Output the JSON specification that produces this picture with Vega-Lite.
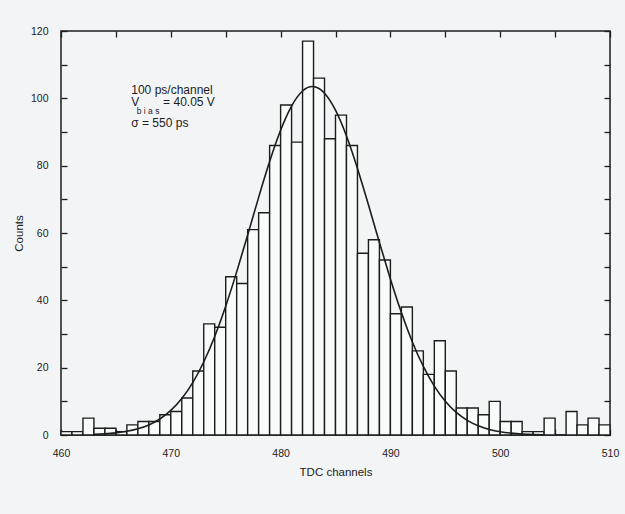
{
  "$schema": "https://vega.github.io/schema/vega-lite/v6.json",
  "width": 549,
  "height": 404,
  "autosize": {"type": "none"},
  "padding": {"left": 61, "top": 31, "right": 15, "bottom": 79},
  "background": "#f3f4f5",
  "config": {
    "view": {"stroke": "#1c1c1c", "strokeWidth": 1.5},
    "font": "Liberation Sans",
    "axis": {
      "grid": false,
      "domain": false,
      "tickColor": "#1c1c1c",
      "tickWidth": 1.3,
      "tickSize": -6,
      "labelColor": "#1c1c1c",
      "titleColor": "#1c1c1c",
      "labelFont": "Liberation Sans",
      "titleFont": "Liberation Sans",
      "titleFontWeight": "normal",
      "labelFontSize": 10.5,
      "titleFontSize": 11.5
    }
  },
  "datasets": {
    "hist": [
      {"from": 460, "to": 461, "counts": 1},
      {"from": 461, "to": 462, "counts": 1},
      {"from": 462, "to": 463, "counts": 5},
      {"from": 463, "to": 464, "counts": 2},
      {"from": 464, "to": 465, "counts": 2},
      {"from": 465, "to": 466, "counts": 1},
      {"from": 466, "to": 467, "counts": 3},
      {"from": 467, "to": 468, "counts": 4},
      {"from": 468, "to": 469, "counts": 4},
      {"from": 469, "to": 470, "counts": 6},
      {"from": 470, "to": 471, "counts": 7},
      {"from": 471, "to": 472, "counts": 11},
      {"from": 472, "to": 473, "counts": 19},
      {"from": 473, "to": 474, "counts": 33},
      {"from": 474, "to": 475, "counts": 32},
      {"from": 475, "to": 476, "counts": 47},
      {"from": 476, "to": 477, "counts": 45},
      {"from": 477, "to": 478, "counts": 61},
      {"from": 478, "to": 479, "counts": 66},
      {"from": 479, "to": 480, "counts": 86},
      {"from": 480, "to": 481, "counts": 98},
      {"from": 481, "to": 482, "counts": 87},
      {"from": 482, "to": 483, "counts": 117},
      {"from": 483, "to": 484, "counts": 106},
      {"from": 484, "to": 485, "counts": 88},
      {"from": 485, "to": 486, "counts": 95},
      {"from": 486, "to": 487, "counts": 86},
      {"from": 487, "to": 488, "counts": 54},
      {"from": 488, "to": 489, "counts": 58},
      {"from": 489, "to": 490, "counts": 52},
      {"from": 490, "to": 491, "counts": 36},
      {"from": 491, "to": 492, "counts": 38},
      {"from": 492, "to": 493, "counts": 25},
      {"from": 493, "to": 494, "counts": 18},
      {"from": 494, "to": 495, "counts": 28},
      {"from": 495, "to": 496, "counts": 19},
      {"from": 496, "to": 497, "counts": 8},
      {"from": 497, "to": 498, "counts": 8},
      {"from": 498, "to": 499, "counts": 6},
      {"from": 499, "to": 500, "counts": 10},
      {"from": 500, "to": 501, "counts": 4},
      {"from": 501, "to": 502, "counts": 4},
      {"from": 502, "to": 503, "counts": 1},
      {"from": 503, "to": 504, "counts": 1},
      {"from": 504, "to": 505, "counts": 5},
      {"from": 505, "to": 506, "counts": 0},
      {"from": 506, "to": 507, "counts": 7},
      {"from": 507, "to": 508, "counts": 3},
      {"from": 508, "to": 509, "counts": 5},
      {"from": 509, "to": 510, "counts": 3}
    ],
    "fit": [
      {"channel": 463, "fit": 0.19},
      {"channel": 464, "fit": 0.35},
      {"channel": 465, "fit": 0.63},
      {"channel": 466, "fit": 1.09},
      {"channel": 467, "fit": 1.84},
      {"channel": 468, "fit": 3.0},
      {"channel": 469, "fit": 4.75},
      {"channel": 470, "fit": 7.29},
      {"channel": 471, "fit": 10.83},
      {"channel": 472, "fit": 15.57},
      {"channel": 473, "fit": 21.69},
      {"channel": 474, "fit": 29.27},
      {"channel": 475, "fit": 38.26},
      {"channel": 476, "fit": 48.45},
      {"channel": 477, "fit": 59.42},
      {"channel": 478, "fit": 70.58},
      {"channel": 479, "fit": 81.21},
      {"channel": 480, "fit": 90.51},
      {"channel": 481, "fit": 97.71},
      {"channel": 482, "fit": 102.18},
      {"channel": 483, "fit": 103.48},
      {"channel": 484, "fit": 101.52},
      {"channel": 485, "fit": 96.47},
      {"channel": 486, "fit": 88.79},
      {"channel": 487, "fit": 79.17},
      {"channel": 488, "fit": 68.37},
      {"channel": 489, "fit": 57.18},
      {"channel": 490, "fit": 46.34},
      {"channel": 491, "fit": 36.36},
      {"channel": 492, "fit": 27.64},
      {"channel": 493, "fit": 20.36},
      {"channel": 494, "fit": 14.52},
      {"channel": 495, "fit": 10.03},
      {"channel": 496, "fit": 6.71},
      {"channel": 497, "fit": 4.35},
      {"channel": 498, "fit": 2.73},
      {"channel": 499, "fit": 1.66},
      {"channel": 500, "fit": 0.98},
      {"channel": 501, "fit": 0.56},
      {"channel": 502, "fit": 0.31},
      {"channel": 503, "fit": 0.16},
      {"channel": 504, "fit": 0.09}
    ]
  },
  "resolve": {"axis": {"x": "independent", "y": "independent"}},
  "layer": [
    {
      "data": {"name": "hist"},
      "mark": {"type": "rect", "fill": "#f9fafa", "stroke": "#1c1c1c", "strokeWidth": 1.4},
      "encoding": {
        "x": {
          "field": "from",
          "type": "quantitative",
          "scale": {"domain": [460, 510], "nice": false, "zero": false},
          "axis": {
            "orient": "bottom",
            "values": [460, 465, 470, 475, 480, 485, 490, 495, 500, 505, 510],
            "labelExpr": "datum.value % 10 === 0 ? datum.label : ''",
            "labelPadding": 19,
            "labelFlush": false,
            "title": "TDC channels",
            "titlePadding": 8
          }
        },
        "x2": {"field": "to"},
        "y": {
          "field": "counts",
          "type": "quantitative",
          "scale": {"domain": [0, 120], "nice": false},
          "axis": {
            "orient": "left",
            "values": [0, 10, 20, 30, 40, 50, 60, 70, 80, 90, 100, 110, 120],
            "labelExpr": "datum.value % 20 === 0 ? datum.label : ''",
            "labelPadding": 19,
            "labelFlush": false,
            "title": "Counts",
            "titlePadding": 6
          }
        },
        "y2": {"datum": 0}
      }
    },
    {
      "data": {"name": "fit"},
      "mark": {"type": "line", "color": "#1c1c1c", "strokeWidth": 1.6, "interpolate": "natural", "clip": true},
      "encoding": {
        "x": {
          "field": "channel",
          "type": "quantitative",
          "scale": {"domain": [460, 510], "nice": false, "zero": false},
          "axis": {"orient": "top", "values": [460, 465, 470, 475, 480, 485, 490, 495, 500, 505, 510], "labels": false, "title": null}
        },
        "y": {
          "field": "fit",
          "type": "quantitative",
          "scale": {"domain": [0, 120], "nice": false},
          "axis": {"orient": "right", "values": [0, 10, 20, 30, 40, 50, 60, 70, 80, 90, 100, 110, 120], "labels": false, "title": null}
        }
      }
    },
    {
      "data": {"values": [{"note": "100 ps/channel"}]},
      "mark": {"type": "text", "align": "left", "baseline": "alphabetic", "fontSize": 12, "color": "#1c1c1c"},
      "encoding": {
        "x": {"datum": 466.4, "type": "quantitative", "axis": null},
        "y": {"datum": 101.2, "type": "quantitative", "axis": null},
        "text": {"field": "note"}
      }
    },
    {
      "data": {"values": [{"note": "V"}]},
      "mark": {"type": "text", "align": "left", "baseline": "alphabetic", "fontSize": 12, "color": "#1c1c1c"},
      "encoding": {
        "x": {"datum": 466.4, "type": "quantitative", "axis": null},
        "y": {"datum": 97.7, "type": "quantitative", "axis": null},
        "text": {"field": "note"}
      }
    },
    {
      "data": {"values": [{"note": "b i a s"}]},
      "mark": {"type": "text", "align": "left", "baseline": "alphabetic", "fontSize": 8.5, "color": "#1c1c1c"},
      "encoding": {
        "x": {"datum": 466.9, "type": "quantitative", "axis": null},
        "y": {"datum": 95.2, "type": "quantitative", "axis": null},
        "text": {"field": "note"}
      }
    },
    {
      "data": {"values": [{"note": "= 40.05 V"}]},
      "mark": {"type": "text", "align": "left", "baseline": "alphabetic", "fontSize": 12, "color": "#1c1c1c"},
      "encoding": {
        "x": {"datum": 469.3, "type": "quantitative", "axis": null},
        "y": {"datum": 97.7, "type": "quantitative", "axis": null},
        "text": {"field": "note"}
      }
    },
    {
      "data": {"values": [{"note": "σ = 550 ps"}]},
      "mark": {"type": "text", "align": "left", "baseline": "alphabetic", "fontSize": 12, "color": "#1c1c1c"},
      "encoding": {
        "x": {"datum": 466.4, "type": "quantitative", "axis": null},
        "y": {"datum": 91.6, "type": "quantitative", "axis": null},
        "text": {"field": "note"}
      }
    }
  ]
}
